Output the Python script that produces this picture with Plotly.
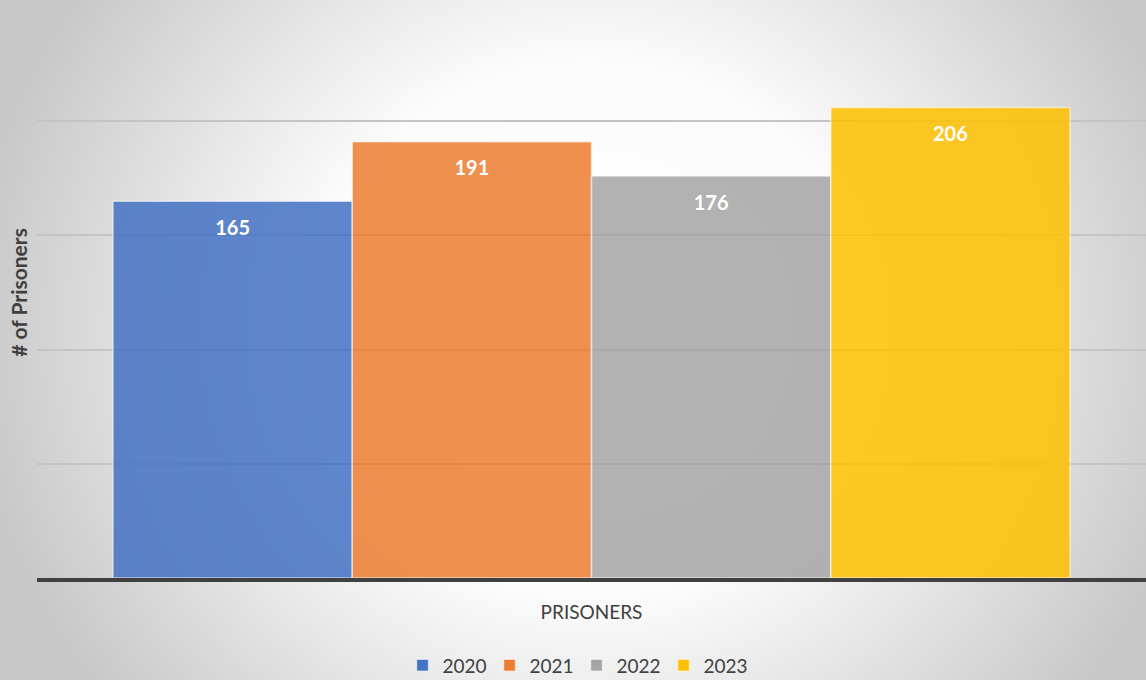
import base64

import plotly.graph_objects as go

category = ["PRISONERS"]
years = ["2020", "2021", "2022", "2023"]
prisoners = [165, 191, 176, 206]
colors = ["#4472c4", "#ed7d31", "#a5a5a5", "#ffc000"]

W, H = 1146, 680

# radial grey background like the Excel chart area
svg = f"""<svg xmlns='http://www.w3.org/2000/svg' width='{W}' height='{H}' viewBox='0 0 {W} {H}' preserveAspectRatio='none'>
<defs><radialGradient id='g' cx='590' cy='330' r='620' gradientUnits='userSpaceOnUse'
 gradientTransform='translate(590,330) scale(1,0.95) translate(-590,-330)'>
<stop offset='0' stop-color='#ffffff'/><stop offset='0.45' stop-color='#fcfcfc'/>
<stop offset='1' stop-color='#c8c8c8'/></radialGradient></defs>
<rect width='{W}' height='{H}' fill='url(#g)'/></svg>"""
bg_uri = "data:image/svg+xml;base64," + base64.b64encode(svg.encode()).decode()

fig = go.Figure()
for yr, val, col in zip(years, prisoners, colors):
    fig.add_trace(go.Bar(
        x=category, y=[val], name=yr, offsetgroup=yr,
        marker=dict(color=col, opacity=0.85, line=dict(color="rgba(255,255,255,0.6)", width=1.5)),
        hoverinfo="skip",
    ))

# value labels a little below each bar top
for yr, val in zip(years, prisoners):
    fig.add_trace(go.Scatter(
        x=category, y=[val], offsetgroup=yr, mode="markers+text",
        marker=dict(size=28, opacity=0), text=[val], textposition="bottom center",
        textfont=dict(family="Lato", size=20, color="white", weight="bold"),
        showlegend=False, hoverinfo="skip", cliponaxis=False,
    ))

fig.add_layout_image(dict(
    source=bg_uri, xref="paper", yref="paper", x=-37 / 1109, y=1 + 7 / 571,
    sizex=W / 1109, sizey=H / 571, xanchor="left", yanchor="top",
    sizing="stretch", layer="below",
))

fig.update_layout(
    width=W, height=H,
    barmode="group", bargap=0.137, bargroupgap=0,
    scattermode="group", scattergap=0.137,
    paper_bgcolor="#dcdcdc", plot_bgcolor="rgba(0,0,0,0)",
    margin=dict(l=37, r=0, t=7, b=102, autoexpand=False),
    font=dict(family="Lato", color="#404040"),
    showlegend=True,
    legend=dict(orientation="h", x=0.4865, xanchor="center", y=-0.12, yanchor="top",
                font=dict(size=19, color="#404040"), itemwidth=30, traceorder="normal",
                entrywidth=42, entrywidthmode="pixels", bgcolor="rgba(0,0,0,0)"),
    xaxis=dict(showline=True, linecolor="#404040", linewidth=3.5, ticks="",
               showticklabels=True, tickfont=dict(size=19, color="#404040"),
               ticklabelstandoff=14, showgrid=False),
    yaxis=dict(range=[0, 250], dtick=50, showticklabels=False, ticks="",
               showgrid=True, gridcolor="#c4c4c4", gridwidth=1.5, zeroline=False,
               title=dict(text="# of Prisoners", standoff=2,
                          font=dict(size=21, color="#404040", family="Lato", weight="bold"))),
)

fig.write_html("out.html", config={"displayModeBar": False},
               post_script="document.body.style.margin='0';")
